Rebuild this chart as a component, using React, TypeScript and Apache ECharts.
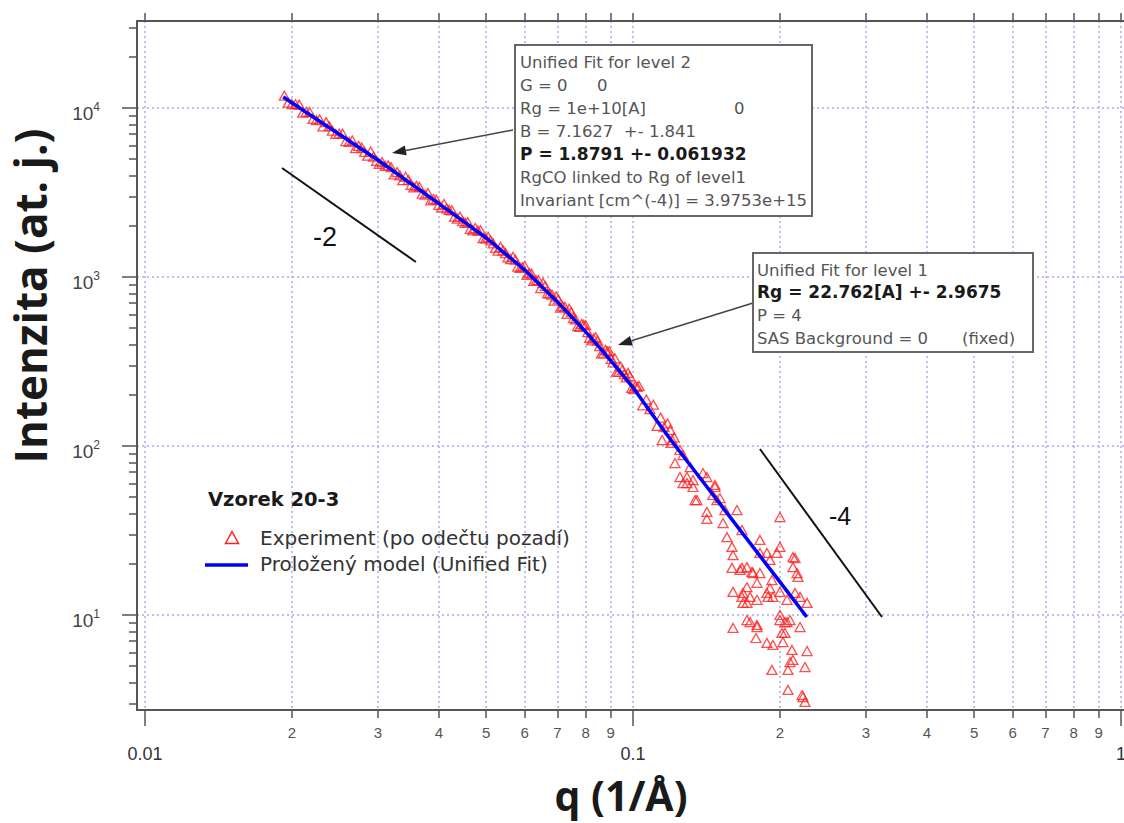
import React, { useEffect, useRef } from 'react';
import * as echarts from 'echarts';

// ---- axes (values in real units; plotted on log10 scale) ----
const xRange = [0.00963, 1.0141];
const yRange = [2.741, 32720];
const xMajorTicks = [0.01, 0.1, 1];
const xMajorLabels = ['0.01', '0.1', '1'];
const xMinorTicks = [0.02, 0.03, 0.04, 0.05, 0.06, 0.07, 0.08, 0.09, 0.2, 0.3, 0.4, 0.5, 0.6, 0.7, 0.8, 0.9];
const xMinorLabels = ['2', '3', '4', '5', '6', '7', '8', '9', '2', '3', '4', '5', '6', '7', '8', '9'];
const yMajorTicks = [10, 100, 1000, 10000];
const yMajorExponents = ['1', '2', '3', '4'];
const yMinorTicks = [3, 4, 5, 6, 7, 8, 9, 20, 30, 40, 50, 60, 70, 80, 90, 200, 300, 400, 500, 600, 700, 800, 900,
  2000, 3000, 4000, 5000, 6000, 7000, 8000, 9000, 20000, 30000];

// ---- series ----
const legendTitle = 'Vzorek 20-3';
const expName = 'Experiment (po odečtu pozadí)';
const fitName = 'Proložený model (Unified Fit)';

const experimentLowQ: [number, number][] = [
  [0.0193, 11820], [0.0200, 10540], [0.0207, 10470], [0.0214, 9500], [0.0221, 8625], [0.0228, 8550],
  [0.0235, 8250], [0.0242, 7345], [0.0250, 7065], [0.0258, 6377], [0.0266, 6425], [0.0274, 5970],
  [0.0282, 5495], [0.0290, 5527], [0.0298, 4873], [0.0306, 4790], [0.0315, 4575], [0.0324, 4048],
  [0.0333, 3988], [0.0342, 3916], [0.0351, 3512], [0.0360, 3459], [0.0370, 3109], [0.0380, 3139],
  [0.0390, 2894], [0.0400, 2673], [0.0410, 2706], [0.0420, 2492], [0.0431, 2273], [0.0442, 2278],
  [0.0453, 2094], [0.0464, 1928], [0.0475, 1948], [0.0487, 1892], [0.0499, 1693], [0.0511, 1646],
  [0.0523, 1487], [0.0535, 1508], [0.0548, 1385], [0.0561, 1275], [0.0574, 1266], [0.0587, 1132],
  [0.0600, 1161], [0.0613, 1054], [0.0626, 948.6], [0.0640, 959.4], [0.0654, 923.4], [0.0668, 800.4],
  [0.0682, 786.9], [0.0696, 767.4], [0.0710, 659.3], [0.0725, 666.1], [0.0740, 649.3], [0.0755, 570.7],
  [0.0770, 512.9], [0.0785, 527.5], [0.0800, 518.8], [0.0815, 436.5], [0.0830, 432.3], [0.0846, 420.9],
  [0.0862, 352.7], [0.0878, 370.6], [0.0894, 363.9], [0.0910, 312.0], [0.0926, 275.3], [0.0943, 295.3],
  [0.0960, 266.0], [0.0977, 270.6], [0.0994, 220.9], [0.1011, 226.9], [0.1029, 226.7], [0.1047, 174.2],
  [0.1065, 188.6], [0.1083, 165.3], [0.1101, 175.6], [0.1120, 131.5], [0.1139, 147.2], [0.1158, 129.3],
  [0.1177, 135.9], [0.1196, 104.2], [0.1215, 112.1],
];

const experimentMidQ: [number, number][] = [
  [0.01965, 10760], [0.02035, 10530], [0.02105, 9385], [0.02175, 9445], [0.02245, 8490], [0.02315, 7783],
  [0.02385, 7803], [0.0246, 7023], [0.0254, 7044], [0.0262, 6307], [0.0270, 5788], [0.0278, 5834],
  [0.0286, 5226], [0.0294, 5164], [0.0302, 4677], [0.03105, 4543], [0.03195, 4465], [0.03285, 4178],
  [0.03375, 3740], [0.03465, 3761], [0.03555, 3391], [0.0365, 3411], [0.0375, 3067], [0.0385, 2839],
  [0.0395, 2873], [0.0405, 2580], [0.0415, 2544], [0.04255, 2481], [0.04365, 2214], [0.04475, 2140],
  [0.04585, 2109], [0.04695, 1890], [0.0481, 1881], [0.0493, 1698], [0.0505, 1725], [0.0517, 1579],
  [0.0529, 1433], [0.05415, 1439], [0.05545, 1305], [0.05675, 1317], [0.05805, 1153], [0.05935, 1144],
  [0.06065, 1028], [0.06195, 1047], [0.0633, 954], [0.0647, 860.6], [0.0661, 884.1], [0.0675, 799.1],
  [0.0689, 723.8], [0.0703, 737.9], [0.07175, 672.0], [0.07325, 605.3], [0.07475, 618.7], [0.07625, 561.3],
  [0.07775, 507.2], [0.07925, 522.0], [0.08075, 471.7], [0.08225, 421.7], [0.0838, 440.7], [0.0854, 389.8],
  [0.0870, 353.3], [0.0886, 363.1], [0.0902, 327.9], [0.0918, 330.4], [0.09345, 274.2], [0.09515, 282.2],
  [0.09685, 254.5], [0.09855, 259.0], [0.10025, 216.8], [0.1020, 223.9],
];

const experimentHighQ: [number, number][] = [
  [0.1147, 108.5], [0.1191, 124.4], [0.1202, 108.5], [0.1219, 79.3], [0.1248, 94.7], [0.1248, 65.5],
  [0.1266, 88.4], [0.1266, 60.4], [0.1290, 60.4], [0.1290, 65.5], [0.1309, 75.1], [0.1327, 57.2],
  [0.1327, 62.9], [0.1340, 47.9], [0.1352, 47.9], [0.1391, 69.2], [0.1417, 65.5], [0.1417, 40.7],
  [0.1417, 37.0], [0.1458, 51.3], [0.1472, 58.8], [0.1472, 57.2], [0.1486, 47.9], [0.1507, 49.2],
  [0.1529, 35.0], [0.1543, 41.8], [0.1558, 28.9], [0.1595, 25.3], [0.1595, 19.0], [0.1603, 22.6],
  [0.1603, 13.7], [0.1603, 8.38], [0.1633, 41.8], [0.1657, 18.5], [0.1672, 31.8], [0.1672, 19.0],
  [0.1672, 12.8], [0.1680, 11.8], [0.1680, 13.5], [0.1712, 14.6], [0.1712, 19.2], [0.1712, 11.8],
  [0.1712, 9.34], [0.1737, 9.09], [0.1737, 12.8], [0.1753, 18.0], [0.1761, 17.7], [0.1786, 7.31],
  [0.1795, 8.73], [0.1795, 15.5], [0.1795, 8.49], [0.1795, 12.3], [0.1820, 27.8], [0.1820, 17.7],
  [0.1820, 23.3], [0.1881, 6.83], [0.1881, 23.3], [0.1881, 13.5], [0.1890, 12.8], [0.1908, 21.2],
  [0.1908, 14.4], [0.1926, 16.1], [0.1926, 4.73], [0.1935, 6.65], [0.1935, 12.8], [0.1972, 23.3],
  [0.2000, 38.0], [0.2000, 25.3], [0.2000, 10.0], [0.2000, 9.34], [0.2000, 13.7], [0.2019, 7.83],
  [0.2029, 6.92], [0.2048, 9.09], [0.2048, 7.83], [0.2068, 12.3], [0.2068, 9.09], [0.2078, 4.73],
  [0.2078, 3.60], [0.2097, 5.27], [0.2097, 9.34], [0.2117, 6.21], [0.2127, 5.42], [0.2127, 19.2],
  [0.2127, 22.0], [0.2148, 21.7], [0.2148, 13.5], [0.2168, 17.7], [0.2178, 16.8], [0.2199, 8.49],
  [0.2199, 12.8], [0.2220, 3.36], [0.2230, 3.27], [0.2251, 4.92], [0.2251, 3.06], [0.2273, 11.8],
  [0.2273, 6.12],
];

const fitQ = [0.0192, 0.025, 0.03, 0.035, 0.04, 0.045, 0.05, 0.055, 0.06, 0.065, 0.07, 0.075, 0.08,
  0.09, 0.1, 0.11, 0.12, 0.14, 0.16, 0.18, 0.2, 0.227];
const fitI = [11610, 7000, 4920, 3580, 2720, 2125, 1702, 1355, 1100, 877, 711, 577, 473,
  320, 221, 151, 107, 60.0, 36.3, 23.3, 15.7, 9.73];

const slope2Q = [0.01909, 0.0359];
const slope2I = [4416, 1227];
const slope4Q = [0.182, 0.3237];
const slope4I = [95.98, 9.73];

// ---- annotation texts ----
const box1Lines = [
  'Unified Fit for level 2',
  'G = 0',
  'Rg = 1e+10[A]',
  'B = 7.1627  +- 1.841',
  'P = 1.8791 +- 0.061932',
  'RgCO linked to Rg of level1',
  'Invariant [cm^(-4)] = 3.9753e+15',
];
const box2Lines = [
  'Unified Fit for level 1',
  'Rg = 22.762[A] +- 2.9675',
  'P = 4',
  'SAS Background = 0',
];

const lg = (v: number) => Math.log10(v);
const near = (a: number, b: number) => Math.abs(a - b) < 1e-6;

export default function App() {
  const ref = useRef<HTMLDivElement>(null);

  useEffect(() => {
    if (!ref.current) return;
    const chart = echarts.init(ref.current, null, { renderer: 'svg' });

    const gridColor = '#a9a9f0';
    const axisColor = '#555';
    const labelFont = 'Liberation Sans';
    const boxFont = 'DejaVu Sans';
    const red = '#ff2020';
    const blue = '#0000ff';
    const xMin = lg(xRange[0]);
    const xMax = lg(xRange[1]);
    const yMin = lg(yRange[0]);
    const yMax = lg(yRange[1]);
    const gridLine = { show: true, lineStyle: { color: gridColor, width: 1.5, type: [2, 3] } };

    const baseX = { type: 'value', min: xMin, max: xMax, gridIndex: 0 };
    const baseY = { type: 'value', min: yMin, max: yMax, gridIndex: 0 };

    const toPts = (q: number[], i: number[]) => q.map((v, k) => [lg(v), lg(i[k])]);

    const boxText = (x: number, y: number, text: string, bold = false) => ({
      type: 'text',
      x,
      y,
      z: 110,
      style: {
        text,
        font: `${bold ? 'bold 17px' : '16.5px'} "${boxFont}"`,
        fill: bold ? '#1a1a1a' : '#555',
        verticalAlign: 'middle',
        align: 'left',
      },
    });

    const option: any = {
      animation: false,
      backgroundColor: '#fff',
      grid: { left: 137, top: 21, right: 0, bottom: 823 - 710, containLabel: false, outerBoundsMode: 'none' },
      xAxis: [
        {
          ...baseX,
          position: 'bottom',
          axisLine: { show: true, onZero: false, lineStyle: { color: axisColor, width: 2 } },
          axisTick: { show: true, inside: false, length: 16, customValues: xMajorTicks.map(lg), lineStyle: { color: axisColor, width: 1.5 } },
          axisLabel: {
            show: true,
            customValues: xMajorTicks.map(lg),
            formatter: (v: number) => {
              const k = xMajorTicks.findIndex((t) => near(lg(t), v));
              return k >= 0 ? xMajorLabels[k] : '';
            },
            margin: 35,
            fontSize: 18,
            color: '#333',
            fontFamily: labelFont,
            hideOverlap: false,
          },
          splitLine: gridLine,
        },
        {
          ...baseX,
          position: 'bottom',
          axisLine: { show: false, onZero: false },
          axisTick: { show: true, inside: false, length: 8, customValues: xMinorTicks.map(lg), lineStyle: { color: axisColor, width: 1.5 } },
          axisLabel: {
            show: true,
            customValues: xMinorTicks.map(lg),
            formatter: (v: number) => {
              const k = xMinorTicks.findIndex((t) => near(lg(t), v));
              return k >= 0 ? xMinorLabels[k] : '';
            },
            margin: 15,
            fontSize: 15,
            color: '#555',
            fontFamily: labelFont,
            hideOverlap: false,
          },
          splitLine: gridLine,
        },
        {
          ...baseX,
          position: 'top',
          axisLine: { show: true, onZero: false, lineStyle: { color: axisColor, width: 2 } },
          axisTick: { show: true, inside: false, length: 8, customValues: [...xMajorTicks, ...xMinorTicks].map(lg), lineStyle: { color: axisColor, width: 1.5 } },
          axisLabel: { show: false },
          splitLine: { show: false },
        },
      ],
      yAxis: [
        {
          ...baseY,
          position: 'left',
          axisLine: { show: true, onZero: false, lineStyle: { color: axisColor, width: 2 } },
          axisTick: { show: true, inside: false, length: 15, customValues: yMajorTicks.map(lg), lineStyle: { color: axisColor, width: 1.5 } },
          axisLabel: {
            show: true,
            customValues: yMajorTicks.map(lg),
            formatter: (v: number) => {
              const k = yMajorTicks.findIndex((t) => near(lg(t), v));
              return k >= 0 ? `{b|10}{s|${yMajorExponents[k]}}` : '';
            },
            margin: 37,
            padding: [7, 0, 0, 0],
            rich: {
              b: { fontSize: 19, fontFamily: labelFont, color: '#444', lineHeight: 22, verticalAlign: 'bottom' },
              s: { fontSize: 12, fontFamily: labelFont, color: '#444', lineHeight: 12, verticalAlign: 'top' },
            },
          },
          splitLine: gridLine,
        },
        {
          ...baseY,
          position: 'left',
          axisLine: { show: false, onZero: false },
          axisTick: { show: true, inside: false, length: 8, customValues: yMinorTicks.map(lg), lineStyle: { color: axisColor, width: 1.5 } },
          axisLabel: { show: false },
          splitLine: { show: false },
        },
      ],
      series: [
        {
          name: expName,
          type: 'scatter',
          xAxisIndex: 0,
          yAxisIndex: 0,
          symbol: 'triangle',
          symbolSize: [10, 9],
          itemStyle: { color: 'rgba(0,0,0,0)', borderColor: red, borderWidth: 1.3 },
          data: [...experimentLowQ, ...experimentMidQ, ...experimentHighQ].map(([q, i]) => [lg(q), lg(i)]),
          z: 2,
        },
        {
          name: fitName,
          type: 'line',
          xAxisIndex: 0,
          yAxisIndex: 0,
          showSymbol: false,
          symbol: 'none',
          smooth: 0.2,
          color: blue,
          lineStyle: { color: blue, width: 3.5 },
          data: toPts(fitQ, fitI),
          z: 4,
        },
        {
          name: 'slope -2',
          type: 'line',
          xAxisIndex: 0,
          yAxisIndex: 0,
          showSymbol: false,
          symbol: 'none',
          lineStyle: { color: '#111', width: 2 },
          data: toPts(slope2Q, slope2I),
          z: 3,
        },
        {
          name: 'slope -4',
          type: 'line',
          xAxisIndex: 0,
          yAxisIndex: 0,
          showSymbol: false,
          symbol: 'none',
          lineStyle: { color: '#111', width: 2 },
          data: toPts(slope4Q, slope4I),
          z: 3,
        },
      ],
      graphic: [
        // axis titles
        {
          type: 'text', x: 30, y: 296, rotation: Math.PI / 2, z: 100,
          style: { text: 'Intenzita (at. j.)', font: 'bold 44px "Open Sans"', lineHeight: 44, fill: '#1a1a1a', align: 'center', verticalAlign: 'middle' },
        },
        {
          type: 'text', x: 621, y: 795, z: 100,
          style: { text: 'q (1/Å)', font: 'bold 41px "Open Sans"', lineHeight: 41, fill: '#1a1a1a', align: 'center', verticalAlign: 'middle' },
        },
        // legend
        {
          type: 'text', x: 208, y: 499, z: 100,
          style: { text: legendTitle, font: 'bold 19.5px "DejaVu Sans"', fill: '#1a1a1a', align: 'left', verticalAlign: 'middle' },
        },
        {
          type: 'polygon', z: 100,
          shape: { points: [[232, 531.5], [238.5, 543.5], [225.5, 543.5]] },
          style: { fill: 'none', stroke: red, lineWidth: 1.5 },
        },
        {
          type: 'text', x: 260, y: 538, z: 100,
          style: { text: expName, font: '20px "DejaVu Sans"', fill: '#333', align: 'left', verticalAlign: 'middle' },
        },
        { type: 'line', z: 100, shape: { x1: 205, y1: 565, x2: 248, y2: 565 }, style: { stroke: blue, lineWidth: 3.5 } },
        {
          type: 'text', x: 260, y: 564, z: 100,
          style: { text: fitName, font: '20px "DejaVu Sans"', fill: '#333', align: 'left', verticalAlign: 'middle' },
        },
        // slope labels
        {
          type: 'text', x: 325, y: 237, z: 100,
          style: { text: '-2', font: '27px "Liberation Sans"', fill: '#111', align: 'center', verticalAlign: 'middle' },
        },
        {
          type: 'text', x: 840, y: 516, z: 100,
          style: { text: '-4', font: '25px "Liberation Sans"', fill: '#111', align: 'center', verticalAlign: 'middle' },
        },
        // arrows
        { type: 'line', z: 105, shape: { x1: 513, y1: 130, x2: 405.7, y2: 150.4 }, style: { stroke: '#444', lineWidth: 1.5 } },
        { type: 'polygon', z: 105, shape: { points: [[392, 153], [406.7, 155.3], [404.8, 145.5]] }, style: { fill: '#222' } },
        { type: 'line', z: 105, shape: { x1: 753, y1: 303, x2: 631.4, y2: 340.8 }, style: { stroke: '#444', lineWidth: 1.5 } },
        { type: 'polygon', z: 105, shape: { points: [[618, 345], [632.9, 345.6], [629.9, 336.1]] }, style: { fill: '#222' } },
        // box 1
        { type: 'rect', z: 106, shape: { x: 515, y: 45, width: 297, height: 171 }, style: { fill: '#fff', stroke: '#666', lineWidth: 2 } },
        boxText(520, 62, box1Lines[0]),
        boxText(520, 85, box1Lines[1]),
        boxText(597, 85, '0'),
        boxText(520, 108, box1Lines[2]),
        boxText(734, 108, '0'),
        boxText(520, 131, box1Lines[3]),
        boxText(520, 154, box1Lines[4], true),
        boxText(520, 177, box1Lines[5]),
        boxText(520, 200, box1Lines[6]),
        // box 2
        { type: 'rect', z: 106, shape: { x: 753, y: 253, width: 280, height: 99 }, style: { fill: '#fff', stroke: '#666', lineWidth: 2 } },
        boxText(757, 270, box2Lines[0]),
        boxText(757, 292, box2Lines[1], true),
        boxText(757, 315, box2Lines[2]),
        boxText(757, 338, box2Lines[3]),
        boxText(962, 338, '(fixed)'),
      ],
    };

    chart.setOption(option);
    return () => {
      chart.dispose();
    };
  }, []);

  return (
    <div
      ref={ref}
      style={{ position: 'fixed', left: 0, top: 0, width: 1124, height: 823, background: '#fff' }}
    />
  );
}
